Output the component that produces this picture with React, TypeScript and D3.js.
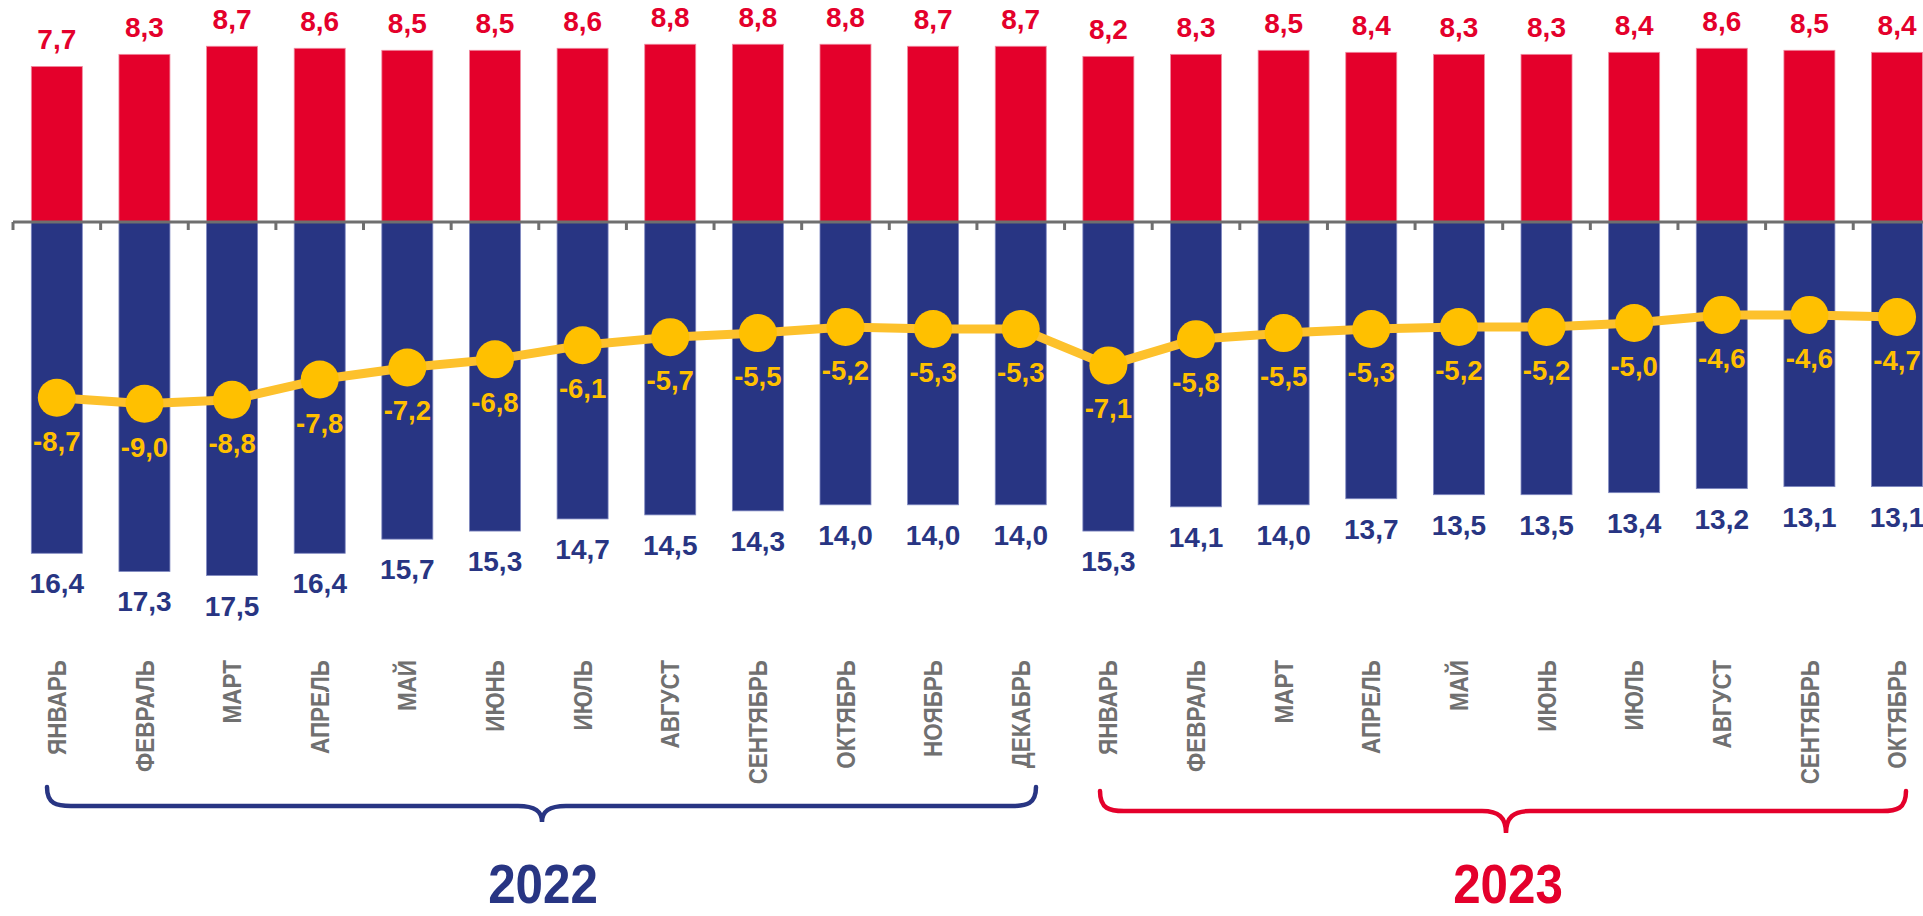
import React, { useEffect } from "react";
import * as d3 from "d3";

const months: string[] = [
  "ЯНВАРЬ", "ФЕВРАЛЬ", "МАРТ", "АПРЕЛЬ", "МАЙ", "ИЮНЬ", "ИЮЛЬ", "АВГУСТ",
  "СЕНТЯБРЬ", "ОКТЯБРЬ", "НОЯБРЬ", "ДЕКАБРЬ",
  "ЯНВАРЬ", "ФЕВРАЛЬ", "МАРТ", "АПРЕЛЬ", "МАЙ", "ИЮНЬ", "ИЮЛЬ", "АВГУСТ",
  "СЕНТЯБРЬ", "ОКТЯБРЬ",
];
const exportsVals: number[] = [
  7.7, 8.3, 8.7, 8.6, 8.5, 8.5, 8.6, 8.8, 8.8, 8.8, 8.7, 8.7,
  8.2, 8.3, 8.5, 8.4, 8.3, 8.3, 8.4, 8.6, 8.5, 8.4,
];
const importsVals: number[] = [
  16.4, 17.3, 17.5, 16.4, 15.7, 15.3, 14.7, 14.5, 14.3, 14.0, 14.0, 14.0,
  15.3, 14.1, 14.0, 13.7, 13.5, 13.5, 13.4, 13.2, 13.1, 13.1,
];
const balanceVals: number[] = [
  -8.7, -9.0, -8.8, -7.8, -7.2, -6.8, -6.1, -5.7, -5.5, -5.2, -5.3, -5.3,
  -7.1, -5.8, -5.5, -5.3, -5.2, -5.2, -5.0, -4.6, -4.6, -4.7,
];
const years: string[] = ["2022", "2023"];

const RED = "#E4002B";
const BLUE = "#283583";
const YELLOW = "#FFC000";
const GRAY = "#6F6F6F";
const FONT = "'Liberation Sans', Arial, sans-serif";

const fmt = (v: number) => v.toFixed(1).replace(".", ",");

function brace(x0: number, x1: number, xm: number, yTop: number, yH: number, yTip: number, r: number, rm: number) {
  const p = d3.path();
  p.moveTo(x0, yTop);
  p.bezierCurveTo(x0, yH - (yH - yTop) * 0.1, x0 + r * 0.4, yH, x0 + r, yH);
  p.lineTo(xm - rm, yH);
  p.bezierCurveTo(xm - rm * 0.3, yH, xm, yH + (yTip - yH) * 0.3, xm, yTip);
  p.bezierCurveTo(xm, yH + (yTip - yH) * 0.3, xm + rm * 0.3, yH, xm + rm, yH);
  p.lineTo(x1 - r, yH);
  p.bezierCurveTo(x1 - r * 0.4, yH, x1, yH - (yH - yTop) * 0.1, x1, yTop);
  return p.toString();
}

export default function App() {
  useEffect(() => {
    document.body.style.margin = "0";
    document.body.style.overflow = "hidden";
  }, []);

  const W = 1923;
  const H = 916;
  const n = months.length;
  const x = d3.scaleBand<number>().domain(d3.range(n)).range([13, 13 + 87.63 * n]).paddingInner(0).paddingOuter(0);
  const step = x.step();
  const bw = step * 0.582;
  const cx = (i: number) => (x(i) as number) + step / 2;
  const y = d3.scaleLinear().domain([0, 10]).range([222, 222 - 202]);

  const line = d3.line<number>().x((_, i) => cx(i)).y((d) => y(d));

  const braceSpecs = [
    { x0: 47, x1: 1036, xm: 542, yTop: 787, yH: 806, yTip: 822, color: BLUE, tx: 543, ty: 903 },
    { x0: 1100, x1: 1906, xm: 1506, yTop: 791, yH: 811, yTip: 833, color: RED, tx: 1508, ty: 903 },
  ];

  return (
    <svg width={W} height={H} style={{ position: "absolute", left: 0, top: 0, background: "#fff" }} fontFamily={FONT}>
      {exportsVals.map((v, i) => (
        <rect key={"r" + i} x={cx(i) - bw / 2} y={y(v)} width={bw} height={y(0) - y(v)} fill={RED} stroke="#f08aa0" strokeWidth={0.8} />
      ))}
      {importsVals.map((v, i) => (
        <rect key={"b" + i} x={cx(i) - bw / 2} y={y(0)} width={bw} height={y(-v) - y(0)} fill={BLUE} stroke="#7f88c0" strokeWidth={0.8} />
      ))}
      <line x1={13} x2={W} y1={y(0)} y2={y(0)} stroke={GRAY} strokeWidth={3} />
      {d3.range(n + 1).map((i) => (
        <line key={"t" + i} x1={13 + i * step} x2={13 + i * step} y1={y(0)} y2={y(0) + 8} stroke={GRAY} strokeWidth={3} />
      ))}
      <path d={line(balanceVals) as string} fill="none" stroke="#FDC12C" strokeWidth={9} strokeLinejoin="round" />
      {balanceVals.map((v, i) => (
        <circle key={"c" + i} cx={cx(i)} cy={y(v)} r={19} fill={YELLOW} />
      ))}
      {exportsVals.map((v, i) => (
        <text key={"rl" + i} x={cx(i)} y={y(v) - 17} textAnchor="middle" fontSize={28} fontWeight="bold" fill={RED}>{fmt(v)}</text>
      ))}
      {importsVals.map((v, i) => (
        <text key={"bl" + i} x={cx(i)} y={y(-v) + 40} textAnchor="middle" fontSize={28} fontWeight="bold" fill={BLUE}>{fmt(v)}</text>
      ))}
      {balanceVals.map((v, i) => (
        <text key={"yl" + i} x={cx(i)} y={y(v) + 53} textAnchor="middle" fontSize={27.5} fontWeight="bold" fill={YELLOW}>{fmt(v)}</text>
      ))}
      {months.map((m, i) => (
        <text key={"m" + i} transform={`translate(${cx(i)},660) rotate(-90) scale(0.865,1)`} dy="0.35em" textAnchor="end" fontSize={26} fontWeight="bold" fill="#707070">{m}</text>
      ))}
      {braceSpecs.map((b, k) => (
        <g key={"br" + k}>
          <path d={brace(b.x0, b.x1, b.xm, b.yTop, b.yH, b.yTip, 24, 24)} fill="none" stroke={b.color} strokeWidth={4.5} strokeLinecap="round" />
          <text transform={`translate(${b.tx},${b.ty}) scale(0.88,1)`} textAnchor="middle" fontSize={56} fontWeight="bold" fill={b.color}>{years[k]}</text>
        </g>
      ))}
    </svg>
  );
}
